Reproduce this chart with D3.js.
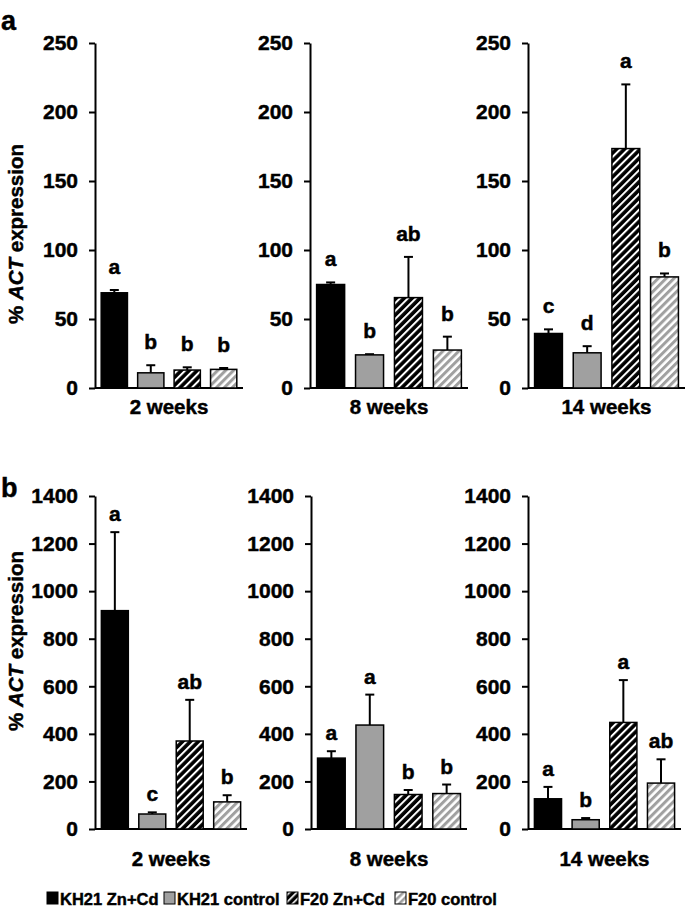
<!DOCTYPE html>
<html>
<head>
<meta charset="utf-8">
<script src="https://cdn.jsdelivr.net/npm/d3@7"></script>
<style>
  html, body { margin: 0; padding: 0; background: #fff; }
  svg { display: block; }
  text { font-family: "Liberation Sans", Arial, sans-serif; font-weight: bold; fill: #000; stroke: #000; stroke-width: 0.45px; }
</style>
</head>
<body>
<svg id="chart" width="685" height="909"></svg>
<script>
// ---------------- DATA ----------------
const weeks = ["2 weeks", "8 weeks", "14 weeks"];
const series = ["KH21 Zn+Cd", "KH21 control", "F20 Zn+Cd", "F20 control"];

// Panel a: % ACT expression (means, upper error)
const aMeans = [
  [69, 11, 13, 13.5],
  [75, 24, 65.5, 27.5],
  [39.5, 25.5, 173.5, 80.5]
];
const aErrors = [
  [2, 5.5, 2, 1],
  [1.5, 0.5, 29.5, 9.7],
  [3, 4.8, 46.5, 2.5]
];
const aLetters = [
  ["a", "b", "b", "b"],
  ["a", "b", "ab", "b"],
  ["c", "d", "a", "b"]
];
const aTicks = [0, 50, 100, 150, 200, 250];

// Panel b
const bMeans = [
  [918, 63, 370, 114],
  [298, 437, 145, 149],
  [127, 39, 448, 193]
];
const bErrors = [
  [330, 7, 173, 28],
  [29, 128, 19, 38],
  [50, 7, 178, 100]
];
const bLetters = [
  ["a", "c", "ab", "b"],
  ["a", "a", "b", "b"],
  ["a", "b", "a", "ab"]
];
const bTicks = [0, 200, 400, 600, 800, 1000, 1200, 1400];

// ---------------- STYLE / LAYOUT ----------------
const fills = ["#000000", "#a0a0a0", "url(#hatchBlack)", "url(#hatchGray)"];
const legendFills = ["#000000", "#a0a0a0", "url(#hatchBlackL)", "url(#hatchGrayL)"];

const svg = d3.select("#chart");
svg.append("rect").attr("width", 685).attr("height", 909).attr("fill", "#fff");

const defs = svg.append("defs");
function hatch(id, bg, fg, size, stripe) {
  const p = defs.append("pattern")
    .attr("id", id)
    .attr("patternUnits", "userSpaceOnUse")
    .attr("width", size).attr("height", size)
    .attr("patternTransform", "rotate(45)");
  p.append("rect").attr("width", size).attr("height", size).attr("fill", bg);
  p.append("rect").attr("x", 0).attr("y", 0).attr("width", stripe).attr("height", size).attr("fill", fg);
}
hatch("hatchBlack", "#000", "#fff", 5.6, 2.0);
hatch("hatchGray", "#fff", "#a0a0a0", 5.6, 3.0);
hatch("hatchBlackL", "#000", "#fff", 5, 1.6);
hatch("hatchGrayL", "#fff", "#a0a0a0", 5, 2.6);

const panels = [
  {
    letter: "a", letterY: 30,
    means: aMeans, errors: aErrors, letters: aLetters, ticks: aTicks,
    yDomain: [0, 250], yRange: [388, 43],
    xRanges: [[95, 243], [310, 468], [528, 685]],
    labelGap: 16, weekY: 414, titleY: 234
  },
  {
    letter: "b", letterY: 497,
    means: bMeans, errors: bErrors, letters: bLetters, ticks: bTicks,
    yDomain: [0, 1400], yRange: [829, 496],
    xRanges: [[95, 247], [311, 467], [528, 681]],
    labelGap: 11, weekY: 866, titleY: 641
  }
];

panels.forEach(P => {
  svg.append("text")
    .attr("x", 1).attr("y", P.letterY)
    .style("font-size", "27px")
    .text(P.letter);

  // y title
  const t = svg.append("text")
    .attr("transform", `translate(23,${P.titleY}) rotate(-90)`)
    .attr("text-anchor", "middle")
    .style("font-size", "20.5px");
  t.append("tspan").text("% ");
  t.append("tspan").style("font-style", "italic").text("ACT");
  t.append("tspan").text(" expression");

  weeks.forEach((wk, i) => {
    const [x0, x1] = P.xRanges[i];
    const x = d3.scaleBand().domain(series).range([x0, x1]).paddingInner(0.28).paddingOuter(0.17);
    const y = d3.scaleLinear().domain(P.yDomain).range(P.yRange);
    const g = svg.append("g");

    // y axis
    const axis = d3.axisLeft(y).tickValues(P.ticks).tickFormat(d3.format("d"))
      .tickSize(6).tickSizeOuter(0).tickPadding(11);
    const ag = g.append("g").attr("transform", `translate(${x0},0)`).call(axis);
    ag.attr("font-family", null).attr("font-size", null);
    ag.select(".domain").attr("stroke", "#000").attr("stroke-width", 2);
    ag.selectAll(".tick line").attr("stroke", "#000").attr("stroke-width", 2);
    ag.selectAll(".tick text")
      .style("font-size", "21px")
      .attr("fill", "#000");

    // baseline
    g.append("line")
      .attr("x1", x0).attr("x2", x1)
      .attr("y1", y(0)).attr("y2", y(0))
      .attr("stroke", "#000").attr("stroke-width", 2);

    const rows = series.map((s, j) => ({
      s, j, v: P.means[i][j], e: P.errors[i][j], l: P.letters[i][j]
    }));

    // error bars (drawn below bars)
    const eg = g.selectAll(".err").data(rows).enter().append("g");
    eg.append("line")
      .attr("x1", d => x(d.s) + x.bandwidth() / 2)
      .attr("x2", d => x(d.s) + x.bandwidth() / 2)
      .attr("y1", d => y(d.v))
      .attr("y2", d => y(d.v + d.e))
      .attr("stroke", "#000").attr("stroke-width", 2);
    eg.append("line")
      .attr("x1", d => x(d.s) + x.bandwidth() / 2 - 4.5)
      .attr("x2", d => x(d.s) + x.bandwidth() / 2 + 4.5)
      .attr("y1", d => y(d.v + d.e))
      .attr("y2", d => y(d.v + d.e))
      .attr("stroke", "#000").attr("stroke-width", 2);

    // bars
    g.selectAll(".bar").data(rows).enter().append("rect")
      .attr("x", d => x(d.s))
      .attr("width", x.bandwidth())
      .attr("y", d => y(d.v))
      .attr("height", d => y(0) - y(d.v))
      .attr("fill", d => fills[d.j])
      .attr("stroke", "#000").attr("stroke-width", 1.5);

    // significance letters
    g.selectAll(".lab").data(rows).enter().append("text")
      .attr("x", d => x(d.s) + x.bandwidth() / 2)
      .attr("y", d => y(d.v + d.e) - P.labelGap)
      .attr("text-anchor", "middle")
      .style("font-size", "21px")
      .text(d => d.l);

    // x label
    g.append("text")
      .attr("x", (x0 + x1) / 2).attr("y", P.weekY)
      .attr("text-anchor", "middle")
      .style("font-size", "20.5px")
      .text(wk);
  });
});

// legend
const legendX = [[47, 60], [164, 177], [287, 300], [395, 408]];
const lg = svg.append("g");
series.forEach((s, j) => {
  lg.append("rect")
    .attr("x", legendX[j][0]).attr("y", 892)
    .attr("width", 11).attr("height", 12)
    .attr("fill", legendFills[j])
    .attr("stroke", "#000").attr("stroke-width", 1);
  lg.append("text")
    .attr("x", legendX[j][1]).attr("y", 905)
    .style("font-size", "16.5px")
    .text(s);
});
</script>
</body>
</html>
